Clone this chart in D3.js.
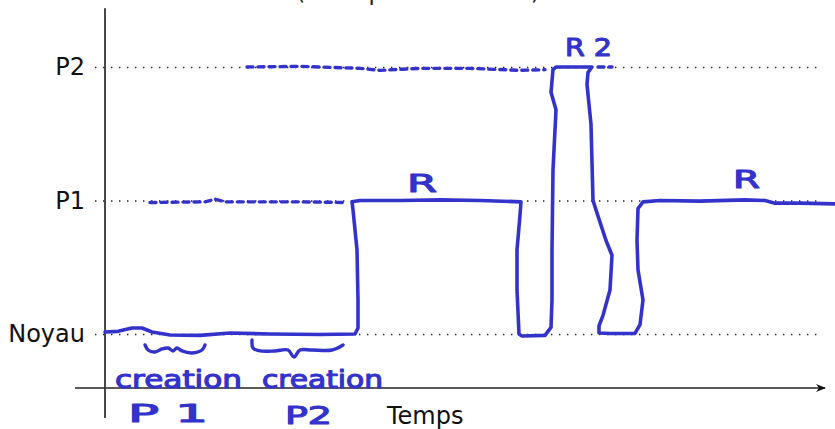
<!DOCTYPE html>
<html>
<head>
  <meta charset="utf-8">
  <title>Ordonnancement</title>
  <script src="https://d3js.org/d3.v7.min.js"></script>
  <style>
    body { margin: 0; background: #fff; }
    svg { display: block; }
    .lbl text { font-family: "DejaVu Sans", sans-serif; font-size: 24px; fill: #111; }
    .hand { font-family: "DejaVu Sans", sans-serif; font-size: 24px; fill: #3333cc;
            stroke: #3333cc; stroke-width: 1.1; stroke-linejoin: round; }
  </style>
</head>
<body>
<script>
  // niveaux d'execution (axe vertical)
  var levels = ["Noyau", "P1", "P2"];

  // trace de l'execution : [temps, niveau]
  var trace = [
    [0, 0.015], [13, 0.02], [27, 0.045], [37, 0.045], [47, 0.015], [65, -0.007],
    [95, -0.01], [125, 0.007], [165, 0], [215, -0.004], [250, 0], [253, 0.045],
    [253, 0.255], [252, 0.63], [248, 0.93], [247, 0.99], [255, 1.0], [295, 1.0],
    [335, 1.005], [375, 1.0], [416, 0.99], [415, 0.89], [412, 0.63], [412, 0.33],
    [414, 0], [417, -0.015], [440, -0.01], [446, 0.05], [447, 0.255], [447, 0.63],
    [448, 1.23], [451, 1.68], [446, 1.81], [448, 1.98], [451, 2.0], [487, 2.0],
    [483, 1.96], [482, 1.87], [486, 1.57], [488, 1.0], [491, 0.93], [501, 0.7],
    [507, 0.59], [505, 0.33], [498, 0.14], [494, 0.06], [494, 0.007], [505, 0.004],
    [530, 0.004], [535, 0.07], [538, 0.255], [533, 0.48], [532, 0.7], [533, 0.94],
    [538, 0.99], [555, 1.0], [595, 0.995], [640, 1.005], [660, 1.0], [670, 0.98],
    [695, 0.98], [730, 0.975]
  ];

  // attentes (pointilles bleus)
  var waitP1 = [[45, 0.985], [100, 0.99], [110, 1.01], [120, 0.99], [195, 0.99], [240, 0.985]];
  var waitP2 = [[142, 2.0], [195, 2.005], [255, 1.99], [275, 1.975], [315, 1.99], [365, 1.99], [415, 1.975], [440, 1.98]];
  var waitP2b = [[493, 2.0], [507, 2.0]];

  // accolades sous le noyau
  var brace1 = [[40, -0.082], [43, -0.12], [50, -0.135], [57, -0.112], [63, -0.105], [68, -0.127],
                [72, -0.105], [77, -0.127], [87, -0.142], [97, -0.12], [100, -0.082]];
  var brace2 = [[147, -0.045], [148, -0.105], [155, -0.127], [170, -0.127], [183, -0.12], [189, -0.172],
                [195, -0.12], [207, -0.12], [227, -0.12], [238, -0.082]];

  // annotations manuscrites : texte, temps, niveau, largeur (en px)
  var notes = [
    ["R", 302, 1.064, 30],
    ["R 2", 460, 2.08, 47],
    ["R", 628, 1.094, 27],
    ["creation", 10, -0.404, 127],
    ["creation", 157, -0.404, 121],
    ["P 1", 23, -0.66, 80],
    ["P2", 180, -0.675, 47]
  ];

  var w = 835, h = 429;
  var svg = d3.select("body").append("svg").attr("width", w).attr("height", h);

  var x = d3.scaleLinear().domain([0, 730]).range([105, 835]);
  var y = d3.scaleLinear().domain([0, 2]).range([334, 67]);

  // titre coupe en haut (comme sur l'original)
  svg.append("text")
     .attr("x", 418).attr("y", 0)
     .attr("text-anchor", "middle")
     .style("font-family", "DejaVu Sans, sans-serif")
     .style("font-size", "23px")
     .style("fill", "#222")
     .text("(exemple à 2 tâches)");

  // etiquettes + lignes pointillees
  var yAxis = d3.axisLeft(y)
                .tickValues([0, 1, 2])
                .tickFormat(function(d) { return levels[d]; })
                .tickSize(-725)
                .tickPadding(10);
  var g = svg.append("g").attr("class", "lbl").attr("transform", "translate(95,0)").call(yAxis);
  g.select(".domain").remove();
  g.selectAll(".tick line")
   .attr("stroke", "#222")
   .attr("stroke-width", 1.4)
   .attr("stroke-dasharray", "1.4,6.6");

  // axes
  svg.append("defs").append("marker")
      .attr("id", "arrow")
      .attr("viewBox", "0 0 10 10")
      .attr("refX", 9).attr("refY", 5)
      .attr("markerWidth", 14).attr("markerHeight", 10)
      .attr("markerUnits", "userSpaceOnUse")
      .attr("orient", "auto")
      .append("path")
      .attr("d", "M0,1 L10,5 L0,9 L3,5 Z")
      .attr("fill", "#111");

  svg.append("line")
     .attr("x1", x(-30)).attr("x2", x(720))
     .attr("y1", 388).attr("y2", 388)
     .attr("stroke", "#222").attr("stroke-width", 1.6)
     .attr("marker-end", "url(#arrow)");
  svg.append("line")
     .attr("x1", x(0)).attr("x2", x(0))
     .attr("y1", y(2.44)).attr("y2", y(-0.63))
     .attr("stroke", "#333").attr("stroke-width", 1.8);

  svg.append("text")
     .attr("x", x(282)).attr("y", 424)
     .style("font-family", "DejaVu Sans, sans-serif")
     .style("font-size", "24px")
     .style("fill", "#111")
     .text("Temps");

  var line = d3.line()
               .x(function(d) { return x(d[0]); })
               .y(function(d) { return y(d[1]); });
  var smooth = d3.line()
                 .x(function(d) { return x(d[0]); })
                 .y(function(d) { return y(d[1]); })
                 .curve(d3.curveCatmullRom);

  var blue = "#3333cc";

  [waitP1, waitP2, waitP2b].forEach(function(d) {
    svg.append("path")
       .attr("d", line(d))
       .attr("fill", "none")
       .attr("stroke", blue)
       .attr("stroke-width", 3.4)
       .attr("stroke-linecap", "round")
       .attr("stroke-dasharray", "6,5");
  });

  [brace1, brace2].forEach(function(d) {
    svg.append("path")
       .attr("d", smooth(d))
       .attr("fill", "none")
       .attr("stroke", blue)
       .attr("stroke-width", 3.4)
       .attr("stroke-linecap", "round");
  });

  svg.append("path")
     .attr("d", line(trace))
     .attr("fill", "none")
     .attr("stroke", blue)
     .attr("stroke-width", 3.6)
     .attr("stroke-linejoin", "round")
     .attr("stroke-linecap", "round");

  svg.selectAll(".hand")
     .data(notes)
     .enter()
     .append("text")
     .attr("class", "hand")
     .attr("x", function(d) { return x(d[1]); })
     .attr("y", function(d) { return y(d[2]); })
     .attr("textLength", function(d) { return d[3]; })
     .attr("lengthAdjust", "spacingAndGlyphs")
     .text(function(d) { return d[0]; });
</script>
</body>
</html>
